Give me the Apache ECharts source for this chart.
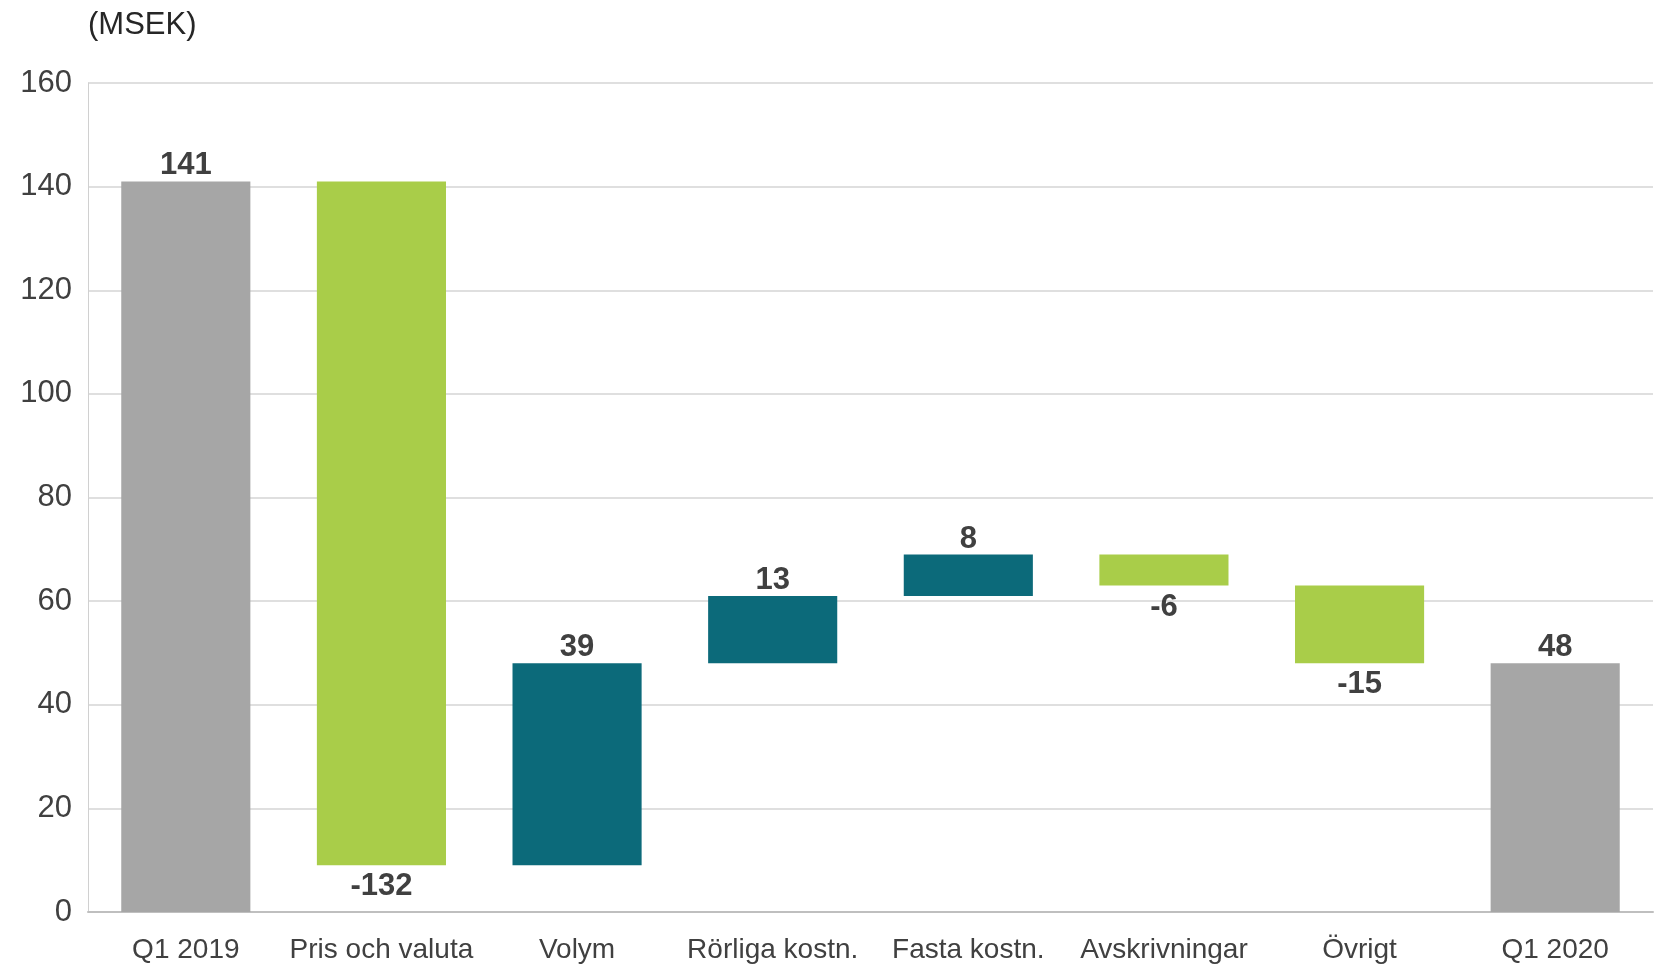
<!DOCTYPE html>
<html>
<head>
<meta charset="utf-8">
<script src="https://cdn.jsdelivr.net/npm/echarts@6/dist/echarts.min.js"></script>
<style>
  html, body { margin: 0; padding: 0; background: #fff; }
  #chart { width: 1666px; height: 968px; }
</style>
</head>
<body>
<div id="chart"></div>
<script>
// bryggan Q1 2019 -> Q1 2020
const categories = ['Q1 2019', 'Pris och valuta', 'Volym', 'Rörliga kostn.', 'Fasta kostn.', 'Avskrivningar', 'Övrigt', 'Q1 2020']
const changes = [141, -132, 39, 13, 8, -6, -15, 48]
const isTotal = [true, false, false, false, false, false, false, true]
const yTicks = [0, 20, 40, 60, 80, 100, 120, 140, 160]

const GRAY = '#a6a6a6'
const GREEN = '#a9cd49'
const TEAL = '#0c6a7a'

// räkna fram bas och höjd för varje stapel
let running = 0
const base = []
const height = []
changes.forEach((v, i) => {
  if (isTotal[i]) {
    base.push(0)
    height.push(v)
    running = v
  } else if (v >= 0) {
    base.push(running)
    height.push(v)
    running += v
  } else {
    running += v
    base.push(running)
    height.push(-v)
  }
})

const barData = height.map((h, i) => {
  const v = changes[i]
  const color = isTotal[i] ? GRAY : (v < 0 ? GREEN : TEAL)
  return {
    value: h,
    itemStyle: { color: color },
    label: {
      position: v < 0 ? 'bottom' : 'top',
      distance: v < 0 ? 6 : 0
    }
  }
})

const chart = echarts.init(document.getElementById('chart'))
chart.setOption({
  animation: false,
  textStyle: { fontFamily: 'Liberation Sans, Arial, sans-serif' },
  title: {
    text: '(MSEK)',
    left: 83,
    top: 5,
    textStyle: { fontSize: 31, fontWeight: 'normal', color: '#262626' }
  },
  grid: { left: 88, right: 13, top: 83, bottom: 56 },
  xAxis: {
    type: 'category',
    data: categories,
    axisTick: { show: false },
    axisLine: { lineStyle: { color: '#bfbfbf', width: 2 } },
    axisLabel: {
      interval: 0,
      fontSize: 28,
      color: '#404040',
      margin: 24
    }
  },
  yAxis: {
    type: 'value',
    min: yTicks[0],
    max: yTicks[yTicks.length - 1],
    interval: 20,
    axisLine: { show: true, lineStyle: { color: '#d0d0d0', width: 1 } },
    axisTick: { show: false },
    axisLabel: { fontSize: 31, color: '#404040', margin: 16 },
    splitLine: { lineStyle: { color: '#d4d4d4', width: 1.5 } }
  },
  series: [
    {
      type: 'bar',
      stack: 'w',
      data: base,
      itemStyle: { color: 'transparent' },
      silent: true,
      barWidth: '66%'
    },
    {
      type: 'bar',
      stack: 'w',
      data: barData,
      barWidth: '66%',
      label: {
        show: true,
        fontSize: 31,
        fontWeight: 'bold',
        color: '#404040',
        formatter: p => String(changes[p.dataIndex])
      }
    }
  ]
})
</script>
</body>
</html>
